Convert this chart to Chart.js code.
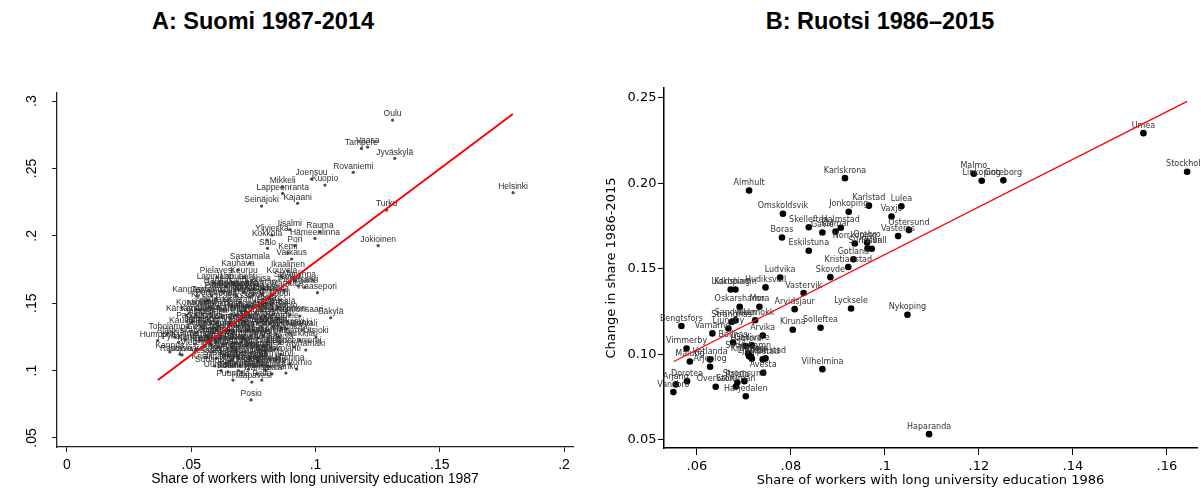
<!DOCTYPE html>
<html lang="fi">
<head>
<meta charset="UTF-8">
<script src="https://cdn.jsdelivr.net/npm/chart.js@4.4.0/dist/chart.umd.min.js"></script>
<style>
  body { margin: 0; background: #fff; width: 1201px; height: 488px; position: relative; overflow: hidden; }
  .title { position: absolute; top: 8px; font: bold 23.5px "Liberation Sans", Arial, sans-serif; color: #000; transform: translateX(-50%); white-space: nowrap; }
  canvas { position: absolute; top: 0; }
</style>
</head>
<body>
<div class="title" style="left:263px">A: Suomi 1987-2014</div>
<div class="title" style="left:880px">B: Ruotsi 1986–2015</div>
<canvas id="chartA" width="600" height="488" style="left:0"></canvas>
<canvas id="chartB" width="601" height="488" style="left:600px"></canvas>
<script>
// --- Panel A: Finland ---
const namesA = ['Oulu','Tampere','Vaasa','Jyväskylä','Rovaniemi','Joensuu','Kuopio','Helsinki','Kajaani','Mikkeli',
  'Lappeenranta','Seinäjoki','Turku','Jokioinen','Rauma','Hämeenlinna','Ylivieska','Iisalmi','Kokkola','Salo',
  'Pori','Kemi','Varkaus','Sastamala','Kauhava','Ikaalinen','Pielavesi','Keuruu','Kouvola','Kotka',
  'Savonlinna','Lapinlahti','Lapua','Lahti','Loviisa','Raahe','Pietarsaari','Raasepori','Loimaa','Kankaanpää',
  'Kangasniemi','Lieksa','Kyyjärvi','Juva','Virrat','Forssa','Nurmes','Kitee','Alavus','Tammela',
  'Imatra','Pirkkala','Uusikaupunki','Valkeakoski','Kemiönsaari','Joroinen','Säkylä','Utsjoki','Kärsämäki','Karstula',
  'Juuka','Liperi','Laitila','Huittinen','Akaa','Orivesi','Parkano','Saarijärvi','Sotkamo','Somero',
  'Nokia','Heinola','Riihimäki','Siilinjärvi','Suonenjoki','Kauhajoki','Kurikka','Jämsä','Porvoo','Lohja',
  'Hyvinkää','Alavieska','Humppila','Kuhmo','Kiuruvesi','Ähtäri','Viitasaari','Outokumpu','Mäntyharju','Hollola',
  'Laukaa','Tervola','Pelkosenniemi','Ilmajoki','Pudasjärvi','Kuusamo','Iitti','Paimio','Isojoki','Kannus',
  'Kristiinankaupunki','Kalajoki','Nivala','Ilomantsi','Ulvila','Kemijärvi','Sodankylä','Parikkala','Haapajärvi','Hamina',
  'Ylitornio','Vaala','Hanko','Kolari','Suomussalmi','Ranua','Puumala','Haapavesi','Posio','Pello',
  'Pyhäjärvi','Rautavaara','Taivalkoski','Pihtipudas','Kuortane','Lapinjärvi','Loppi','Mänttä','Kontiolahti','Pieksämäki',
  'Tornio','Janakkala','Kempele','Eura','Vihti','Sievi','Urjala','Lieto','Muhos','Nakkila',
  'Teuva','Jalasjärvi','Heinävesi','Ruovesi','Kaustinen','Toholampi','Vimpeli','Ylöjärvi','Naantali','Karkkila',
  'Mynämäki','Asikkala','Hartola','Hattula','Hausjärvi','Inari','Jämijärvi','Kaavi','Keitele','Kihniö',
  'Kittilä','Kokemäki','Kuhmoinen','Lemi','Leppävirta','Luumäki','Marttila','Merikarvia','Muonio','Nousiainen',
  'Oulainen','Padasjoki','Parainen','Pomarkku','Punkalaidun','Pöytyä','Rantasalmi','Rautalampi','Ristijärvi','Ruokolahti',
  'Salla','Savukoski','Simo','Sulkava','Sysmä','Taivassalo','Tohmajärvi','Tuusniemi','Uurainen','Vesanto',
  'Vieremä','Virolahti','Ypäjä','Äänekoski','Hankasalmi','Konnevesi','Luhanka','Multia','Mäntsälä','Orimattila',
  'Pertunmaa','Pyhtää','Sauvo','Sonkajärvi'];
const shareA = [0.1310,0.1185,0.1210,0.1319,0.1152,0.0984,0.1038,0.1795,0.0928,0.0868,
  0.0868,0.0783,0.1286,0.1252,0.1018,0.0998,0.0825,0.0897,0.0805,0.0807,
  0.0917,0.0889,0.0904,0.0736,0.0688,0.0889,0.0603,0.0712,0.0865,0.0897,
  0.0917,0.0595,0.0664,0.0728,0.0768,0.0957,0.0930,0.1008,0.0736,0.0676,
  0.0523,0.0680,0.0559,0.0648,0.0756,0.0696,0.0607,0.0664,0.0728,0.0628,
  0.0784,0.0825,0.0885,0.0865,0.0937,0.0897,0.1061,0.1002,0.0479,0.0519,
  0.0575,0.0624,0.0680,0.0736,0.0796,0.0849,0.0503,0.0555,0.0607,0.0656,
  0.0712,0.0768,0.0817,0.0547,0.0599,0.0648,0.0700,0.0752,0.0801,0.0841,
  0.0897,0.0434,0.0365,0.0475,0.0515,0.0567,0.0615,0.0664,0.0716,0.0768,
  0.0809,0.0857,0.0913,0.0555,0.0607,0.0664,0.0724,0.0768,0.0455,0.0414,
  0.0640,0.0636,0.0688,0.0736,0.0784,0.0841,0.0595,0.0696,0.0748,0.0897,
  0.0924,0.0825,0.0881,0.0648,0.0704,0.0764,0.0668,0.0744,0.0741,0.0784,
  0.0449,0.0463,0.0583,0.0632,0.0784,0.0817,0.0857,0.0873,0.0519,0.0716,
  0.0881,0.0784,0.0865,0.0680,0.0796,0.0519,0.0587,0.0837,0.0664,0.0716,
  0.0535,0.0599,0.0784,0.0809,0.0487,0.0406,0.0535,0.0736,0.0945,0.0937,
  0.0961,0.0620,0.0570,0.0700,0.0760,0.0820,0.0540,0.0590,0.0560,0.0610,
  0.0690,0.0730,0.0660,0.0700,0.0760,0.0620,0.0740,0.0790,0.0830,0.0850,
  0.0580,0.0640,0.0700,0.0740,0.0790,0.0620,0.0680,0.0740,0.0800,0.0860,
  0.0650,0.0720,0.0770,0.0820,0.0600,0.0690,0.0730,0.0800,0.0620,0.0560,
  0.0520,0.0830,0.0800,0.0750,0.0640,0.0690,0.0580,0.0530,0.0850,0.0820,
  0.0600,0.0790,0.0710,0.0670];
const changeA = [0.2859,0.2649,0.2659,0.2575,0.2471,0.2421,0.2377,0.2320,0.2241,0.2361,
  0.2315,0.2221,0.2191,0.1927,0.2028,0.1981,0.2006,0.2047,0.1969,0.1907,
  0.1927,0.1872,0.1828,0.1798,0.1746,0.1739,0.1694,0.1694,0.1694,0.1650,
  0.1665,0.1650,0.1650,0.1650,0.1635,0.1620,0.1628,0.1578,0.1598,0.1598,
  0.1553,0.1553,0.1516,0.1524,0.1516,0.1509,0.1479,0.1479,0.1479,0.1450,
  0.1442,0.1457,0.1309,0.1316,0.1405,0.1412,0.1392,0.1251,0.1412,0.1412,
  0.1420,0.1405,0.1412,0.1405,0.1405,0.1390,0.1361,0.1361,0.1353,0.1353,
  0.1361,0.1353,0.1346,0.1309,0.1301,0.1301,0.1294,0.1301,0.1294,0.1272,
  0.1279,0.1249,0.1222,0.1227,0.1197,0.1249,0.1242,0.1249,0.1234,0.1242,
  0.1212,0.1205,0.1175,0.1183,0.1175,0.1168,0.1183,0.1153,0.1121,0.1138,
  0.1056,0.1116,0.1101,0.1093,0.1108,0.1079,0.1034,0.1034,0.1049,0.1049,
  0.1012,0.0975,0.0982,0.0990,0.0990,0.0975,0.0930,0.0915,0.0782,0.0930,
  0.1210,0.1116,0.1553,0.1583,0.1568,0.1538,0.1524,0.1598,0.1457,0.1442,
  0.1435,0.1323,0.1361,0.1205,0.1145,0.1279,0.1138,0.1160,0.1079,0.1138,
  0.1227,0.1212,0.1042,0.1034,0.1323,0.1279,0.1390,0.1546,0.1301,0.1227,
  0.1153,0.1590,0.1470,0.1440,0.1430,0.1490,0.1330,0.1280,0.1260,0.1330,
  0.1330,0.1330,0.1420,0.1380,0.1380,0.1260,0.1260,0.1260,0.1330,0.1250,
  0.1190,0.1200,0.1210,0.1200,0.1180,0.1130,0.1150,0.1130,0.1120,0.1120,
  0.1070,0.1070,0.1070,0.1030,0.1090,0.1000,0.1010,0.1000,0.1000,0.1100,
  0.1160,0.1420,0.1500,0.1560,0.1620,0.1600,0.1400,0.1450,0.1470,0.1560,
  0.1530,0.1610,0.1580,0.1290];
const fitA = [[0.0366, 0.0930], [0.1794, 0.2904]];
const xTicksA = [0, 0.05, 0.1, 0.15, 0.2];
const xLabelsA = ['0', '.05', '.1', '.15', '.2'];
const yTicksA = [0.05, 0.1, 0.15, 0.2, 0.25, 0.3];
const yLabelsA = ['.05', '.1', '.15', '.2', '.25', '.3'];

// --- Panel B: Sweden ---
const namesB = ['Almhult','Karlskrona','Omskoldsvik','Karlstad','Jonkoping','Skelleftea','Halmstad','Gavle','Kalmar','Boras',
  'Norrkoping','Orebro','Sundsvall','Falun','Gotland','Kristianstad','Skovde','Eskilstuna','Vaxjo','Lulea',
  'Ostersund','Vasteras','Malmo','Linkoping','Goteborg','Umea','Stockholm','Nykoping','Haparanda','Ludvika',
  'Hudiksvall','Lidkoping','Karlshamn','Vastervik','Oskarshamn','Mora','Arvidsjaur','Lycksele','Strangnas','Sandviken',
  'Jokkmokk','Bengtsfors','Varnamo','Ljungby','Arvika','Gallivare','Bollnas','Kiruna','Solleftea','Vimmerby',
  'Malung','Vetlanda','Arjeplog','Dorotea','Arjang','Vansbro','Overkalix','Harjedalen','Stromsund','Pajala',
  'Storuman','Avesta','Stromstad','Filipstad','Soderhamn','Kramfors','Tranas','Ljusdal','Hagfors','Vilhelmina'];
const shareB = [0.0711,0.0915,0.0783,0.0966,0.0923,0.0838,0.0906,0.0867,0.0895,0.0781,
  0.0936,0.0962,0.0963,0.0972,0.0933,0.0922,0.0884,0.0838,0.1014,0.1035,
  0.1051,0.1028,0.1189,0.1206,0.1252,0.1550,0.1643,0.1048,0.1094,0.0777,
  0.0746,0.0672,0.0682,0.0827,0.0691,0.0733,0.0808,0.0928,0.0674,0.0682,
  0.0724,0.0567,0.0633,0.0667,0.0740,0.0717,0.0677,0.0804,0.0863,0.0578,
  0.0585,0.0628,0.0628,0.0579,0.0555,0.0550,0.0640,0.0704,0.0701,0.0686,
  0.0683,0.0741,0.0746,0.0740,0.0709,0.0711,0.0715,0.0717,0.0704,0.0867];
const changeB = [0.1959,0.2031,0.1823,0.1870,0.1834,0.1744,0.1741,0.1713,0.1718,0.1684,
  0.1649,0.1655,0.1620,0.1618,0.1556,0.1511,0.1452,0.1606,0.1807,0.1867,
  0.1727,0.1692,0.2057,0.2016,0.2018,0.2294,0.2068,0.1232,0.0534,0.1450,
  0.1392,0.1380,0.1380,0.1359,0.1279,0.1279,0.1265,0.1269,0.1190,0.1199,
  0.1200,0.1166,0.1123,0.1152,0.1111,0.1053,0.1070,0.1144,0.1156,0.1035,
  0.0959,0.0971,0.0928,0.0844,0.0825,0.0780,0.0811,0.0756,0.0844,0.0836,
  0.0813,0.0893,0.0977,0.0971,0.1006,0.0990,0.0987,0.0975,0.1049,0.0914];
const fitB = [[0.0551, 0.0959], [0.1643, 0.2480]];
const xTicksB = [0.06, 0.08, 0.1, 0.12, 0.14, 0.16];
const xLabelsB = ['.06', '.08', '.1', '.12', '.14', '.16'];
const yTicksB = [0.05, 0.1, 0.15, 0.2, 0.25];
const yLabelsB = ['0.05', '0.10', '0.15', '0.20', '0.25'];

const FONT_A = '"Liberation Sans", Arial, sans-serif';
const FONT_B = '"DejaVu Sans", Verdana, sans-serif';

function points(xs, ys) { return xs.map((x, i) => ({ x: x, y: ys[i] })); }
function fitPoints(f) { return f.map(p => ({ x: p[0], y: p[1] })); }
function fixTicks(vals) { return s => { s.ticks = vals.map(v => ({ value: v })); }; }
function tickText(vals, labels) { return v => labels[vals.indexOf(v)]; }

// names written centred just above each dot, before the fit line is drawn
function pointLabels(names, font, color, lift) {
  return {
    id: 'pointLabels',
    afterDatasetDraw(chart, args) {
      if (args.index !== 0) return;
      const ctx = chart.ctx;
      ctx.save();
      ctx.font = font;
      ctx.fillStyle = color;
      ctx.textAlign = 'center';
      ctx.textBaseline = 'alphabetic';
      args.meta.data.forEach((pt, i) => ctx.fillText(names[i], pt.x, pt.y - lift));
      ctx.restore();
    }
  };
}

// Stata-style vertical tick labels on panel A
const rotatedYTicks = {
  id: 'rotatedYTicks',
  afterDraw(chart) {
    const s = chart.scales.y, ctx = chart.ctx;
    ctx.save();
    ctx.font = '14px ' + FONT_A;
    ctx.fillStyle = '#000';
    ctx.textAlign = 'center';
    ctx.textBaseline = 'alphabetic';
    yTicksA.forEach((v, i) => {
      ctx.save();
      ctx.translate(s.left + 36, s.getPixelForValue(v));
      ctx.rotate(-Math.PI / 2);
      ctx.fillText(yLabelsA[i], 0, 0);
      ctx.restore();
    });
    ctx.restore();
  }
};

new Chart(document.getElementById('chartA'), {
  type: 'scatter',
  data: {
    datasets: [
      { data: points(shareA, changeA), order: 2, pointRadius: 1.6, pointBorderWidth: 0,
        pointBackgroundColor: '#4a4a4a' },
      { data: fitPoints(fitA), order: 1, showLine: true, pointRadius: 0,
        borderColor: '#ff0000', borderWidth: 2 }
    ]
  },
  options: {
    responsive: false,
    animation: false,
    layout: { padding: { top: 93, right: 27, left: 0, bottom: 0 } },
    plugins: { legend: { display: false }, tooltip: { enabled: false } },
    scales: {
      x: {
        type: 'linear', min: -0.004, max: 0.2036,
        afterBuildTicks: fixTicks(xTicksA),
        afterFit: s => { s.height = 41; },
        border: { display: true, color: '#222', width: 1.3 },
        grid: { drawOnChartArea: false, drawTicks: true, tickLength: 5, color: '#222' },
        ticks: { color: '#000', font: { family: FONT_A, size: 14 }, padding: 5, maxRotation: 0,
          callback: tickText(xTicksA, xLabelsA) },
        title: { display: true, text: 'Share of workers with long university education 1987',
          color: '#000', font: { family: FONT_A, size: 14 }, padding: 0 }
      },
      y: {
        type: 'linear', min: 0.0433, max: 0.306,
        afterBuildTicks: fixTicks(yTicksA),
        afterFit: s => { s.width = 57; },
        border: { display: true, color: '#222', width: 1.3 },
        grid: { drawOnChartArea: false, drawTicks: true, tickLength: 5, color: '#222' },
        ticks: { display: false }
      }
    }
  },
  plugins: [pointLabels(namesA, '8.5px ' + FONT_A, '#2e2e2e', 3.7), rotatedYTicks]
});

new Chart(document.getElementById('chartB'), {
  type: 'scatter',
  data: {
    datasets: [
      { data: points(shareB, changeB), order: 2, pointRadius: 3.3, pointBorderWidth: 0,
        pointBackgroundColor: '#000' },
      { data: fitPoints(fitB), order: 1, showLine: true, pointRadius: 0,
        borderColor: '#ff0000', borderWidth: 1.3 }
    ]
  },
  options: {
    responsive: false,
    animation: false,
    layout: { padding: { top: 88, right: 4, left: 0, bottom: 0 } },
    plugins: { legend: { display: false }, tooltip: { enabled: false } },
    scales: {
      x: {
        type: 'linear', min: 0.053, max: 0.1664,
        afterBuildTicks: fixTicks(xTicksB),
        afterFit: s => { s.height = 40; },
        border: { display: true, color: '#000', width: 1.5 },
        grid: { drawOnChartArea: false, drawTicks: true, tickLength: 7, color: '#000' },
        ticks: { color: '#000', font: { family: FONT_B, size: 13 }, padding: 4, maxRotation: 0,
          callback: tickText(xTicksB, xLabelsB) },
        title: { display: true, text: 'Share of workers with long university education 1986',
          color: '#000', font: { family: FONT_B, size: 13 }, padding: 0 }
      },
      y: {
        type: 'linear', min: 0.0453, max: 0.2558,
        afterBuildTicks: fixTicks(yTicksB),
        afterFit: s => { s.width = 64; },
        border: { display: true, color: '#000', width: 1.5 },
        grid: { drawOnChartArea: false, drawTicks: true, tickLength: 6, color: '#000' },
        ticks: { color: '#000', font: { family: FONT_B, size: 13 }, padding: 1.5,
          callback: tickText(yTicksB, yLabelsB) },
        title: { display: true, text: 'Change in share 1986-2015', color: '#000',
          font: { family: FONT_B, size: 13 }, padding: { top: 4, bottom: 0 } }
      }
    }
  },
  plugins: [pointLabels(namesB, '8px ' + FONT_B, '#333', 5.4)]
});
</script>
</body>
</html>
